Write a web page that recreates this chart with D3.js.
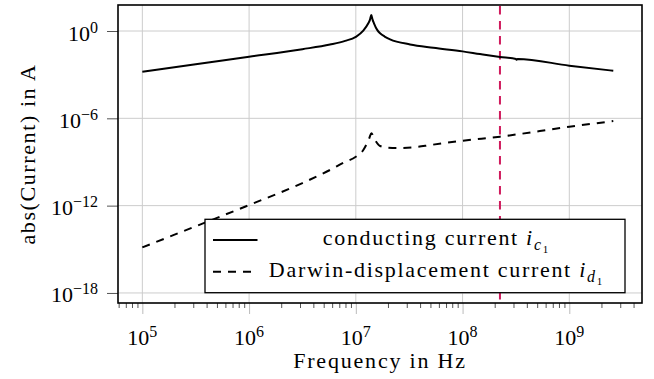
<!DOCTYPE html>
<html><head><meta charset="utf-8">
<script src="https://cdn.jsdelivr.net/npm/d3@7"></script>
<style>body{margin:0;background:#fff}</style>
</head><body><svg id="c" width="654" height="379"></svg>
<script>
// ---- data ----
const condFreq = [1e5, 3.16e5, 1e6, 3.16e6, 5.73e6, 7.94e6, 1e7, 1.175e7, 1.309e7, 1.358e7, 1.396e7, 1.435e7, 1.479e7, 1.585e7, 1.687e7, 1.862e7, 2.094e7, 3.221e7, 5.321e7, 1e8, 1.455e8, 2.244e8, 3.162e8, 3.214e8, 3.273e8, 1e9, 2.582e9];
const condCurrent = [1.585e-3, 5.25e-3, 1.70e-2, 5.62e-2, 0.1175, 0.209, 0.398, 1.047, 3.39, 6.03, 12.6, 6.03, 3.39, 1.20, 0.692, 0.417, 0.269, 0.120, 0.0708, 0.0398, 0.0263, 0.0166, 0.0120, 0.0105, 0.01175, 4.17e-3, 1.86e-3];
const dispFreq = [1e5, 3.16e5, 1e6, 3.16e6, 5.73e6, 7.64e6, 1e7, 1.175e7, 1.337e7, 1.396e7, 1.514e7, 1.687e7, 2.018e7, 2.415e7, 3.715e7, 4.955e7, 1e8, 2.244e8, 1e9, 2.582e9];
const dispCurrent = [1.35e-15, 3.80e-14, 1.10e-12, 3.55e-11, 2.82e-10, 8.91e-10, 2.29e-9, 6.61e-9, 4.27e-8, 9.33e-8, 3.24e-8, 1.26e-8, 9.55e-9, 9.12e-9, 1.07e-8, 1.45e-8, 2.88e-8, 5.50e-8, 2.63e-7, 6.46e-7];
const markerFreq = 2.24e8;
const xMajorTicks = [1e5, 1e6, 1e7, 1e8, 1e9];
const xTickExp = ["5", "6", "7", "8", "9"];
const yMajorTicks = [1e0, 1e-6, 1e-12, 1e-18];
const yTickExp = ["0", "\u22126", "\u221212", "\u221218"];
const xLabel = "Frequency in Hz";
const yLabel = "abs(Current) in A";
const legendText = ["conducting current ", "Darwin-displacement current "];
const legendSub = ["c", "d"];
const legendSubSub = ["1", "1"];

// ---- layout ----
const L = 118, R = 642, T = 5, B = 303;
const F = '"Liberation Serif"';
const svg = d3.select("#c");

const x = d3.scaleLog().domain([5.916e4, 4.797e9]).range([L, R]);
const y = d3.scaleLog().domain([2.04e-19, 61.2]).range([B, T]);

function txt(parent, size) {
  return parent.append("text").style("font-family", F).style("font-size", size + "px");
}

// tick labels (placed via the scales)
xMajorTicks.forEach((v, i) => {
  const t = txt(svg, 22).attr("x", x(v)).attr("y", B + 42).attr("text-anchor", "middle");
  t.append("tspan").text("10");
  t.append("tspan").style("font-size", "16px").attr("dy", -8).text(xTickExp[i]);
});
yMajorTicks.forEach((v, i) => {
  const t = txt(svg, 22).attr("x", L - 20).attr("y", y(v) + 9.5).attr("text-anchor", "end");
  t.append("tspan").text("10");
  t.append("tspan").style("font-size", "16px").attr("dy", -8).text(yTickExp[i]);
});

// axis labels
txt(svg, 22).attr("x", (L + R) / 2).attr("y", 368).attr("text-anchor", "middle")
  .style("letter-spacing", "1.8px").text(xLabel);
txt(svg, 22).attr("transform", `translate(35,${(T + B) / 2}) rotate(-90)`)
  .attr("text-anchor", "middle").style("letter-spacing", "1.6px").text(yLabel);

// minor ticks on x
const xMinor = [];
for (let e = 4; e <= 9; e++) for (let k = 2; k <= 9; k++) {
  const v = k * Math.pow(10, e);
  if (v >= x.domain()[0] && v <= x.domain()[1]) xMinor.push(v);
}

// grid
const grid = svg.append("g").attr("stroke", "#cccccc").attr("stroke-width", 1);
grid.selectAll("line.v").data(xMajorTicks).join("line")
  .attr("x1", d => x(d)).attr("x2", d => x(d)).attr("y1", T).attr("y2", B);
grid.selectAll("line.h").data(yMajorTicks).join("line")
  .attr("x1", L).attr("x2", R).attr("y1", d => y(d)).attr("y2", d => y(d));

// axes (tick marks only)
const gxMin = svg.append("g").attr("transform", `translate(0,${B})`)
  .call(d3.axisBottom(x).tickValues(xMinor).tickSize(5).tickFormat(""));
gxMin.select(".domain").remove();
gxMin.selectAll(".tick text").remove();
gxMin.selectAll(".tick line").attr("stroke", "#555").attr("stroke-width", 1);

const gx = svg.append("g").attr("transform", `translate(0,${B})`)
  .call(d3.axisBottom(x).tickValues(xMajorTicks).tickSize(11).tickFormat(""));
gx.select(".domain").remove();
gx.selectAll(".tick text").remove();
gx.selectAll(".tick line").attr("stroke", "#bbbbbb").attr("stroke-width", 1);

const gy = svg.append("g").attr("transform", `translate(${L},0)`)
  .call(d3.axisLeft(y).tickValues(yMajorTicks).tickSize(11).tickFormat(""));
gy.select(".domain").remove();
gy.selectAll(".tick text").remove();
gy.selectAll(".tick line").attr("stroke", "#555").attr("stroke-width", 1);

// data
const line = d3.line().x(d => x(d[0])).y(d => y(d[1])).curve(d3.curveMonotoneX);

svg.append("line")
  .attr("x1", x(markerFreq)).attr("x2", x(markerFreq)).attr("y1", T + 1).attr("y2", B - 1)
  .attr("stroke", "#cf1a5c").attr("stroke-width", 2).attr("stroke-dasharray", "8.5,6.5");

svg.append("path").datum(d3.zip(condFreq, condCurrent))
  .attr("d", line).attr("fill", "none").attr("stroke", "#000").attr("stroke-width", 2)
  .attr("stroke-linejoin", "round");
svg.append("path").datum(d3.zip(dispFreq, dispCurrent))
  .attr("d", line).attr("fill", "none").attr("stroke", "#000").attr("stroke-width", 2)
  .attr("stroke-dasharray", "8,7").attr("stroke-linejoin", "round");

// frame
svg.append("rect").attr("x", L).attr("y", T).attr("width", R - L).attr("height", B - T)
  .attr("fill", "none").attr("stroke", "#000").attr("stroke-width", 1.6);

// legend
const lg = svg.append("g");
lg.append("rect").attr("x", 205).attr("y", 219.3).attr("width", 420).attr("height", 73.4)
  .attr("fill", "#fff").attr("stroke", "#000").attr("stroke-width", 1.3);
const rowY = [240, 271.7];
const dashes = [null, "8,7"];
const baseY = [245, 277.3];
legendText.forEach((s, i) => {
  lg.append("line").attr("x1", 213).attr("x2", 257.5).attr("y1", rowY[i]).attr("y2", rowY[i])
    .attr("stroke", "#000").attr("stroke-width", 2).attr("stroke-dasharray", dashes[i]);
  const t = txt(lg, 22).attr("x", 435.5).attr("y", baseY[i]).attr("text-anchor", "middle")
    .style("letter-spacing", "1.7px");
  t.append("tspan").text(s);
  t.append("tspan").style("font-style", "italic").text("i");
  t.append("tspan").style("font-style", "italic").style("font-size", "16px").attr("dy", 5).text(legendSub[i]);
  t.append("tspan").style("font-size", "11px").attr("dy", 3).style("letter-spacing", "0px").text(legendSubSub[i]);
});
</script>
</body></html>
